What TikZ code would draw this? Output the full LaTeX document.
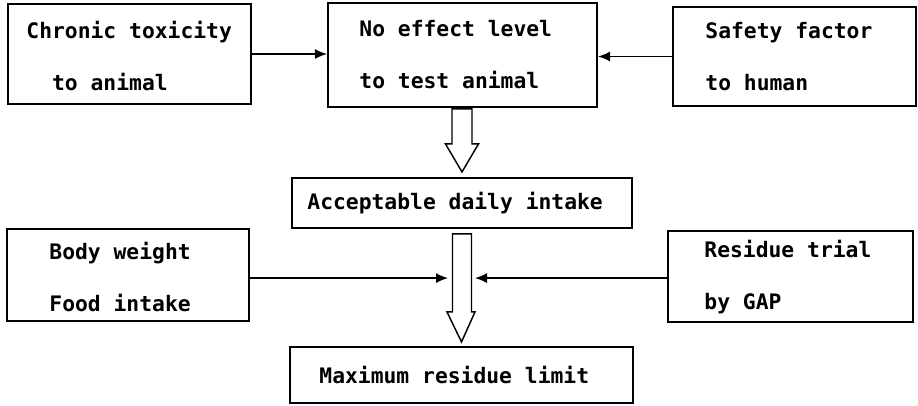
\documentclass[tikz,border=0pt]{standalone}
\usepackage{fontspec}
\setmonofont{DejaVu Sans Mono}
\usetikzlibrary{calc,arrows.meta}

\tikzset{every picture/.style={line width=0.75pt}}
\tikzset{
  box/.style={draw, line width=1.6pt, inner sep=0pt},
  txt/.style={anchor=west, align=left, inner sep=0pt,
    font={\fontsize{16}{39}\selectfont\ttfamily\bfseries}},
  thinarrow/.style={line width=1pt, -{Latex[length=9pt,width=7.5pt]}},
  hollow/.style={line width=1.1pt, line join=miter}
}

\begin{document}
\begin{tikzpicture}[x=0.75pt,y=0.75pt,yscale=-1,xscale=1]
        \useasboundingbox (0,0) rectangle (918,405);

        % top row
        \node [box, minimum width=182.25pt, minimum height=75pt] (tox) at (129.5,54) {};
        \node [box, minimum width=201.75pt, minimum height=78pt] (nel) at (462.5,55) {};
        \node [box, minimum width=182.25pt, minimum height=74.25pt] (saf) at (794.5,56.5) {};
        \node [txt] (toxt) at ($(tox.west)+(19,2)$) {Chronic toxicity\\\phantom{xx}to animal};
        \node [txt] (nelt) at ($(nel.west)+(32,0)$) {No effect level\\to test animal};
        \node [txt] (saft) at ($(saf.west)+(33,0)$) {Safety factor\\to human};

        % middle
        \node [box, minimum width=255pt, minimum height=37.5pt] (adi) at (462,203) {};
        \node [txt] (adit) at ($(adi.west)+(16,0)$) {Acceptable daily intake};

        % bottom row
        \node [box, minimum width=181.5pt, minimum height=69pt] (bw) at (128,275) {};
        \node [box, minimum width=183.75pt, minimum height=68.25pt] (res) at (790.5,276.5) {};
        \node [box, minimum width=257.25pt, minimum height=42pt] (mrl) at (461.5,375) {};
        \node [txt] (bwt) at ($(bw.west)+(43,2)$) {Body weight\\Food intake};
        \node [txt] (rest) at ($(res.west)+(37,1)$) {Residue trial\\by GAP};
        \node [txt] (mrlt) at ($(mrl.west)+(30,0)$) {Maximum residue limit};

        % side arrows, top
        \draw [thinarrow] (tox.east) -- (tox.east -| nel.west);
        \draw [thinarrow] (saf.west) -- (saf.west -| nel.east);

        % hollow arrow 1
        \draw [hollow] ($(adi.north)+(-10,-68)$) -- ($(adi.north)+(-10,-33)$) -- ($(adi.north)+(-16.5,-33)$) -- ($(adi.north)+(0,-5)$) -- ($(adi.north)+(16.5,-33)$) -- ($(adi.north)+(10,-33)$) -- ($(adi.north)+(10,-68)$) -- cycle;

        % hollow arrow 2
        \draw [hollow] ($(mrl.north)+(-9,-112)$) -- ($(mrl.north)+(-9,-34)$) -- ($(mrl.north)+(-14.5,-34)$) -- ($(mrl.north)+(0,-4)$) -- ($(mrl.north)+(13.5,-34)$) -- ($(mrl.north)+(10,-34)$) -- ($(mrl.north)+(10,-112)$) -- cycle;

        % side arrows, bottom
        \coordinate (inl) at ($(adi.south)+(-14,49)$);
        \coordinate (inr) at ($(adi.south)+(13,49)$);
        \draw [thinarrow] (bw.east |- inl) -- (inl);
        \draw [thinarrow] (res.west |- inr) -- (inr);
    \end{tikzpicture}
\end{document}
